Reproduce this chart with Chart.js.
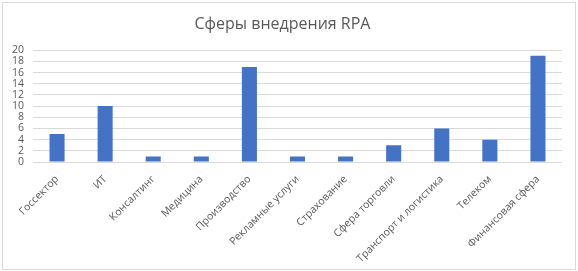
<!DOCTYPE html>
<html>
<head>
<meta charset="utf-8">
<script src="https://cdn.jsdelivr.net/npm/chart.js@4/dist/chart.umd.min.js"></script>
<style>
  html, body { margin: 0; padding: 0; background: #fff; }
  #wrap { position: absolute; left: 2px; top: 2px; width: 572px; height: 266px; border: 1px solid #d9d9d9; }
</style>
</head>
<body>
<div id="wrap"><canvas id="rpaChart" width="572" height="266"></canvas></div>
<script>
const categories = ['Госсектор', 'ИТ', 'Консалтинг', 'Медицина', 'Производство', 'Рекламные услуги',
    'Страхование', 'Сфера торговли', 'Транспорт и логистика', 'Телеком', 'Финансовая сфера'];
const values = [5, 10, 1, 1, 17, 1, 1, 3, 6, 4, 19];

const ctx = document.getElementById('rpaChart').getContext('2d');

const chart = new Chart(ctx, {
    type: 'bar',
    data: {
        labels: categories,
        datasets: [{
            label: 'Сферы внедрения RPA',
            data: values,
            backgroundColor: '#4472C4',
            barPercentage: 0.313,
            categoryPercentage: 1
        }]
    },
    options: {
        responsive: false,
        animation: false,
        layout: { padding: { left: 0, right: 13, top: 0, bottom: 0 } },
        plugins: {
            legend: { display: false },
            tooltip: { enabled: false },
            title: {
                display: true,
                text: 'Сферы внедрения RPA',
                color: '#595959',
                font: { family: 'Open Sans', size: 16, weight: 'normal', lineHeight: 1.2 },
                padding: { top: 12, bottom: 16 }
            }
        },
        scales: {
            y: {
                min: 0,
                max: 20,
                ticks: {
                    stepSize: 2,
                    autoSkip: false,
                    color: '#595959',
                    font: { family: 'Open Sans', size: 10.5, lineHeight: 1 },
                    padding: 9
                },
                grid: { color: '#d9d9d9', drawTicks: false },
                border: { display: false },
                afterFit: (s) => { s.width = 30; }
            },
            x: {
                ticks: {
                    color: '#595959',
                    font: { family: 'Open Sans', size: 10.5 },
                    maxRotation: 45,
                    minRotation: 45,
                    autoSkip: false,
                    padding: 3
                },
                grid: { display: false },
                border: { display: false },
                afterFit: (s) => { s.height = 107; }
            }
        }
    }
});
</script>
</body>
</html>
